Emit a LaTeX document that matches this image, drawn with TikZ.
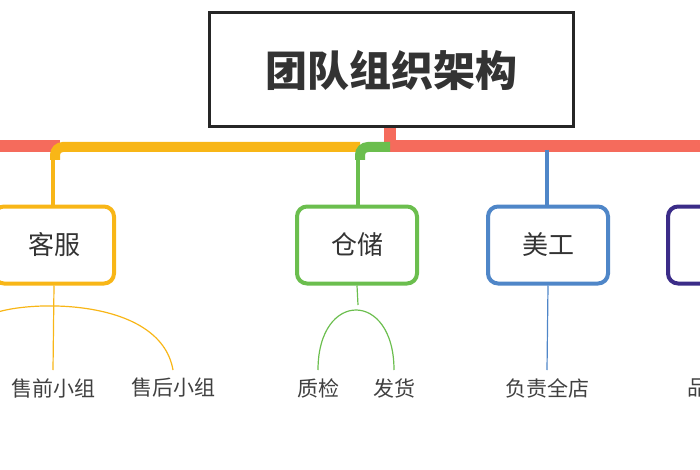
\documentclass[tikz,border=0pt]{standalone}
\usepackage{fontspec}
\setmainfont{Noto Sans CJK SC}
\definecolor{mred}{HTML}{F56B5C}
\definecolor{morange}{HTML}{F8B617}
\definecolor{mgreen}{HTML}{6BBE4E}
\definecolor{mblue}{HTML}{4F86C8}
\definecolor{mpurple}{HTML}{3B2C88}
\tikzset{
  branch/.style={draw=#1, line width=4pt, rounded corners=10pt, minimum width=120pt, minimum height=77pt, font=\fontsize{26}{30}\selectfont, text=black!80, fill=white},
  leaf/.style={font=\fontsize{21}{25}\selectfont, text=black!75, inner sep=1pt},
}
\begin{document}
\begin{tikzpicture}[x=1pt,y=-1pt]
    \useasboundingbox (0,0) rectangle (700,470);
    \clip (0,0) rectangle (700,470);
    % main bars
    \draw[mred, line width=12pt] (390,120) -- (390,146) -- (700,146);
    \draw[mred, line width=12pt] (0,146) -- (60,146);
    \draw[morange, line width=10pt, rounded corners=8pt] (360,147) -- (55,147) -- (55,160);
    \draw[morange, line width=4pt] (53,155) -- (53,210);
    \draw[mgreen, line width=10pt, rounded corners=8pt] (390,147) -- (360,147) -- (360,160);
    \draw[mgreen, line width=4pt] (358,155) -- (358,210);
    \draw[mblue, line width=4pt] (547,150) -- (547,210);

    \node[draw=black!85, line width=3pt, minimum width=364pt, minimum height=114pt, font=\fontsize{42}{46}\selectfont\bfseries, text=black!80, fill=white] (title) at (391,70) {团队组织架构};

    \node[branch=morange] (kefu) at (54,245) {客服};
    \node[branch=mgreen] (cangchu) at (357,245) {仓储};
    \node[branch=mblue] (meigong) at (548,245) {美工};
    \node[branch=mpurple] (pin) at (728,245) {};

    \node[leaf] (shouqian) at (53,388) {售前小组};
    \node[leaf] (shouhou) at (173,388) {售后小组};
    \node[leaf] (zhijian) at (318,388) {质检};
    \node[leaf] (fahuo) at (394,388) {发货};
    \node[leaf] (quandian) at (547,388) {负责全店};
    \node[leaf, anchor=west] (pinx) at (686,388) {品};

    % sub branches
    \draw[morange, line width=1.2pt] (kefu.south) -- (53,370);
    \draw[morange, line width=1.2pt] (-10,315) .. controls (20,300) and (160,295) .. (173,370);
    \draw[mgreen, line width=1.2pt] (cangchu.south) -- (358,305);
    \draw[mgreen, line width=1.2pt] (318,370) .. controls (318,290) and (394,290) .. (394,370);
    \draw[mblue, line width=1.2pt] (meigong.south) -- (547,370);
\end{tikzpicture}
\end{document}
